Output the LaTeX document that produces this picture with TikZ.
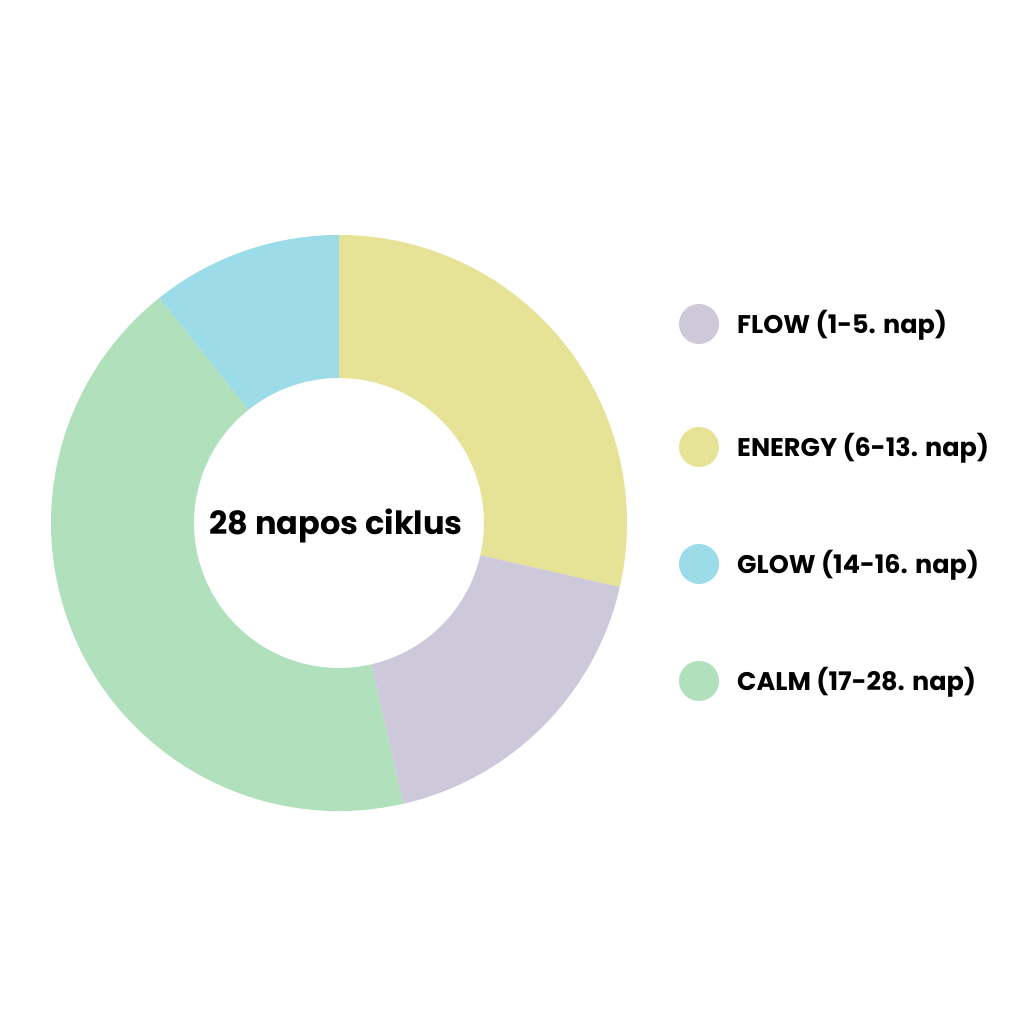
\documentclass[tikz,border=0pt]{standalone}
\usepackage{fontspec}
\setmainfont{Poppins}
\definecolor{cflow}{HTML}{CEC8DB}
\definecolor{cenergy}{HTML}{E6E296}
\definecolor{cglow}{HTML}{9CDCE8}
\definecolor{ccalm}{HTML}{B1E0BC}
\begin{document}
\begin{tikzpicture}[x=1pt,y=1pt,
  dot/.style={circle,inner sep=0pt,minimum size=40pt},
  legtext/.style={anchor=base west,inner sep=0pt,font=\fontsize{25.5}{30}\selectfont\bfseries,text=black}]
\useasboundingbox (0,0) rectangle (1024,1024);
\fill[white] (0,0) rectangle (1024,1024);
\def\Ro{288}\def\Ri{145}
\begin{scope}[shift={(339,501)}]
\newcommand\seg[3]{\fill[#3] (#1:\Ro) arc[start angle=#1,end angle=#2,radius=\Ro] -- (#2:\Ri) arc[start angle=#2,end angle=#1,radius=\Ri] -- cycle;}
\seg{90}{-12.857}{cenergy}
\seg{-12.857}{-77.143}{cflow}
\seg{-77.143}{-231.43}{ccalm}
\seg{128.57}{90}{cglow}
\node[font=\fontsize{32}{38}\selectfont\bfseries,inner sep=0pt,anchor=base] (center) at (-3,-12) {28 napos ciklus};
\end{scope}
\node[dot,fill=cflow] (d1) at (699,700) {};
\node[dot,fill=cenergy] (d2) at (699,577) {};
\node[dot,fill=cglow] (d3) at (699,460) {};
\node[dot,fill=ccalm] (d4) at (699,343) {};
\node[legtext] (t1) at (737,690) {FLOW (1-5. nap)};
\node[legtext] (t2) at (737,567) {ENERGY (6-13. nap)};
\node[legtext] (t3) at (737,450) {GLOW (14-16. nap)};
\node[legtext] (t4) at (737,333) {CALM (17-28. nap)};
\end{tikzpicture}
\end{document}
